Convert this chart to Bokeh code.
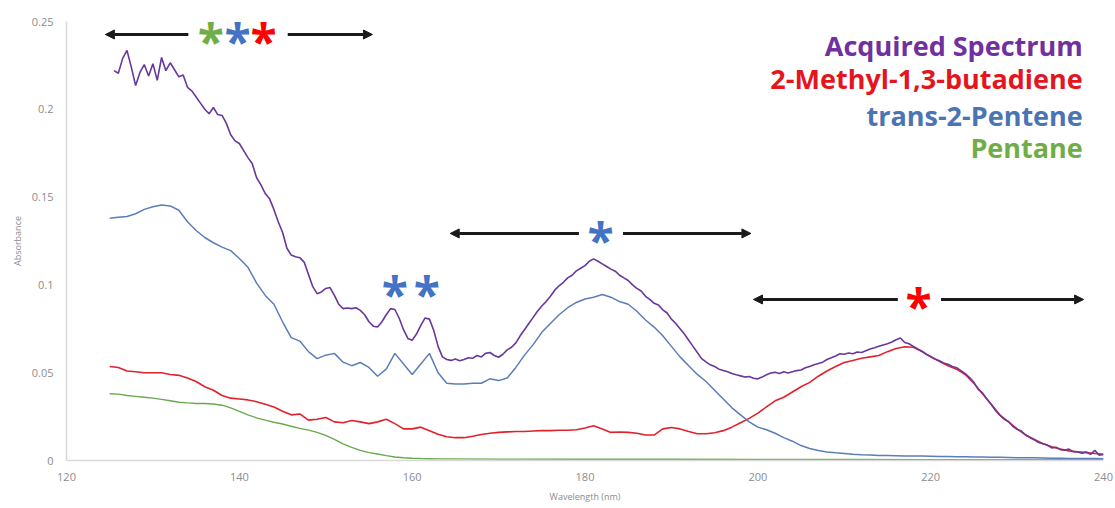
import numpy as np
from bokeh.plotting import figure
from bokeh.models import Range1d, FixedTicker, Arrow, NormalHead, Label
from bokeh.embed import file_html
from bokeh.resources import INLINE

# ---------------- data ----------------
x_ticks = [120, 140, 160, 180, 200, 220, 240]
y_ticks = [0, 0.05, 0.1, 0.15, 0.2, 0.25]
y_tick_labels = ["0", "0.05", "0.1", "0.15", "0.2", "0.25"]

series_names = ["Acquired Spectrum", "2-Methyl-1,3-butadiene", "trans-2-Pentene", "Pentane"]

# wavelength grids (nm)
wl_acquired = np.arange(125.5, 240.01, 0.5)
wl_ref = np.arange(125, 241, 1)

acquired = [
    0.222, 0.2205, 0.229, 0.2335, 0.224, 0.2135, 0.221, 0.2255, 0.219, 0.226,
    0.2165, 0.2295, 0.222, 0.2265, 0.2225, 0.2185, 0.2195, 0.2125, 0.2105, 0.207,
    0.2035, 0.200, 0.1975, 0.201, 0.197, 0.1965, 0.192, 0.1855, 0.182, 0.1805,
    0.1765, 0.1725, 0.169, 0.161, 0.157, 0.152, 0.149, 0.143, 0.136, 0.130,
    0.121, 0.117, 0.116, 0.1155, 0.113, 0.106, 0.099, 0.095, 0.096, 0.098,
    0.0985, 0.094, 0.089, 0.0865, 0.0868, 0.0865, 0.087, 0.0855, 0.083, 0.079,
    0.0765, 0.076, 0.079, 0.083, 0.0865, 0.086, 0.081, 0.0745, 0.0695, 0.0685,
    0.072, 0.077, 0.0812, 0.0805, 0.074, 0.065, 0.059, 0.0575, 0.057, 0.0578,
    0.0568, 0.0575, 0.0585, 0.0582, 0.0598, 0.059, 0.061, 0.0615, 0.0598, 0.0588,
    0.0605, 0.063, 0.0645, 0.067, 0.071, 0.0745, 0.078, 0.0815, 0.085, 0.088,
    0.0905, 0.0935, 0.097, 0.0995, 0.1015, 0.104, 0.1055, 0.108, 0.1095, 0.111,
    0.1135, 0.1148, 0.1135, 0.112, 0.1105, 0.109, 0.1078, 0.1055, 0.104, 0.1025,
    0.100, 0.098, 0.0965, 0.0935, 0.0918, 0.0895, 0.0885, 0.0858, 0.084, 0.0805,
    0.078, 0.075, 0.072, 0.0685, 0.065, 0.0615, 0.058, 0.0562, 0.0545, 0.0535,
    0.052, 0.0513, 0.0505, 0.0495, 0.0488, 0.0482, 0.0475, 0.0478, 0.0468, 0.0465,
    0.0475, 0.0488, 0.0498, 0.0502, 0.0495, 0.0505, 0.0498, 0.0505, 0.0512, 0.0515,
    0.0528, 0.0535, 0.0545, 0.0552, 0.056, 0.0575, 0.0585, 0.0595, 0.0608, 0.0605,
    0.0612, 0.0608, 0.0618, 0.0615, 0.0625, 0.0635, 0.0642, 0.065, 0.0658, 0.0665,
    0.0675, 0.0688, 0.0698, 0.0672, 0.0665, 0.065, 0.0635, 0.0622, 0.0605, 0.0592,
    0.0578, 0.0568, 0.0555, 0.0548, 0.0535, 0.0528, 0.0512, 0.0495, 0.0472, 0.0445,
    0.0405, 0.0385, 0.035, 0.032, 0.0285, 0.0258, 0.0235, 0.0222, 0.0195, 0.0178,
    0.0168, 0.0145, 0.013, 0.0118, 0.0102, 0.0095, 0.0088, 0.0072, 0.0075, 0.0062,
    0.0058, 0.0065, 0.005, 0.0048, 0.0042, 0.0048, 0.0035, 0.0058, 0.003, 0.0035,
]

methylbutadiene = [
    0.0535, 0.053, 0.051, 0.0505, 0.050, 0.050, 0.050, 0.049, 0.0485, 0.047,
    0.045, 0.042, 0.040, 0.037, 0.0355, 0.035, 0.0345, 0.0335, 0.032, 0.0305,
    0.028, 0.026, 0.0265, 0.023, 0.0235, 0.0245, 0.022, 0.0215, 0.0228, 0.022,
    0.021, 0.022, 0.0235, 0.021, 0.018, 0.018, 0.019, 0.017, 0.015, 0.0135,
    0.013, 0.013, 0.0138, 0.0148, 0.0155, 0.016, 0.0163, 0.0165, 0.0165, 0.0168,
    0.017, 0.017, 0.0172, 0.0172, 0.0175, 0.0185, 0.0198, 0.018, 0.016, 0.0162,
    0.016, 0.0155, 0.0145, 0.0145, 0.018, 0.0188, 0.018, 0.0165, 0.0152, 0.0152,
    0.0158, 0.017, 0.019, 0.0215, 0.024, 0.027, 0.0305, 0.034, 0.036, 0.039,
    0.042, 0.0445, 0.048, 0.051, 0.0535, 0.0558, 0.057, 0.0582, 0.059, 0.0598,
    0.062, 0.0638, 0.0648, 0.0645, 0.062, 0.059, 0.0565, 0.054, 0.052, 0.049,
    0.044, 0.038, 0.032, 0.026, 0.022, 0.018, 0.0145, 0.012, 0.0095, 0.0078,
    0.0065, 0.0055, 0.005, 0.0045, 0.004, 0.0035,
]

pentene = [
    0.138, 0.1385, 0.139, 0.1405, 0.143, 0.1445, 0.1455, 0.145, 0.1425, 0.136,
    0.131, 0.127, 0.124, 0.1215, 0.1195, 0.115, 0.110, 0.101, 0.094, 0.089,
    0.079, 0.070, 0.068, 0.062, 0.058, 0.060, 0.061, 0.056, 0.054, 0.0558,
    0.053, 0.048, 0.052, 0.061, 0.055, 0.049, 0.055, 0.061, 0.050, 0.044,
    0.0435, 0.0435, 0.044, 0.044, 0.0465, 0.0455, 0.047, 0.053, 0.060, 0.066,
    0.073, 0.078, 0.083, 0.087, 0.090, 0.092, 0.093, 0.0945, 0.093, 0.0905,
    0.089, 0.085, 0.080, 0.076, 0.071, 0.065, 0.059, 0.054, 0.049, 0.045,
    0.040, 0.035, 0.030, 0.026, 0.022, 0.019, 0.0175, 0.0155, 0.013, 0.011,
    0.0085, 0.0068, 0.0057, 0.0049, 0.0044, 0.004, 0.0036, 0.0033, 0.0031, 0.0029,
    0.0028, 0.0027, 0.0026, 0.0025, 0.0025, 0.0024, 0.0023, 0.0023, 0.0022, 0.0021,
    0.002, 0.002, 0.0019, 0.0018, 0.0017, 0.0016, 0.0015, 0.0015, 0.0014, 0.0013,
    0.0013, 0.0012, 0.0012, 0.0011, 0.0011, 0.001,
]

wl_pentane = [125, 126, 127, 128, 129, 130, 131, 132, 133, 134,
              135, 136, 137, 138, 139, 140, 141, 142, 143, 144,
              145, 146, 147, 148, 149, 150, 151, 152, 153, 154,
              155, 156, 157, 158, 159, 160, 161, 162, 163, 164,
              170, 180, 190, 200, 210, 220, 230, 240]
pentane = [
    0.038, 0.0378, 0.037, 0.0365, 0.036, 0.0355, 0.0348, 0.034, 0.0332, 0.0328,
    0.0325, 0.0325, 0.0322, 0.0315, 0.030, 0.028, 0.026, 0.0243, 0.023, 0.0218,
    0.0208, 0.0195, 0.0183, 0.0173, 0.016, 0.0143, 0.012, 0.0095, 0.0075, 0.0058,
    0.0045, 0.0037, 0.0028, 0.002, 0.0016, 0.0013, 0.0011, 0.001, 0.0009, 0.0009,
    0.0008, 0.0007, 0.0007, 0.0006, 0.0006, 0.0005, 0.0005, 0.0005,
]

# ---------------- styles ----------------
line_colors = ["#68389A", "#E0222B", "#5B7DB8", "#6AA84F"]
text_colors = ["#7030A0", "#E3161E", "#4B74B5", "#70AD47"]
FONT = "Open Sans"

p = figure(width=1115, height=506, x_range=Range1d(120, 240), y_range=Range1d(0, 0.25),
           output_backend="svg", toolbar_location=None,
           min_border_left=66, min_border_right=12, min_border_top=21, min_border_bottom=46)
p.grid.visible = False
p.outline_line_color = None
p.background_fill_color = "white"

p.line(wl_ref, methylbutadiene, line_color=line_colors[1], line_width=1.6)
p.line(wl_ref, pentene, line_color=line_colors[2], line_width=1.5)
p.line(wl_pentane, pentane, line_color=line_colors[3], line_width=1.4)
p.line(wl_acquired, acquired, line_color=line_colors[0], line_width=1.6)

# axes
for ax in (p.xaxis[0], p.yaxis[0]):
    ax.axis_line_color = "#d9d9d9"
    ax.axis_line_width = 1.5
    ax.major_tick_line_color = None
    ax.minor_tick_line_color = None
    ax.major_tick_out = 0
    ax.major_tick_in = 0
    ax.minor_tick_out = 0
    ax.minor_tick_in = 0
    ax.major_label_text_color = "#8c8c8c"
    ax.major_label_text_font = FONT
    ax.major_label_text_font_size = "11px"
    ax.axis_label_text_color = "#8c8c8c"
    ax.axis_label_text_font = FONT
    ax.axis_label_text_font_size = "9px"
    ax.axis_label_text_font_style = "normal"

p.xaxis.ticker = FixedTicker(ticks=x_ticks)
p.yaxis.ticker = FixedTicker(ticks=y_ticks)
p.yaxis.major_label_overrides = {t: l for t, l in zip(y_ticks, y_tick_labels)}
p.xaxis.axis_label = "Wavelength (nm)"
p.yaxis.axis_label = "Absorbance"
p.xaxis.major_label_standoff = 12
p.xaxis.axis_label_standoff = 6
p.yaxis.major_label_standoff = 13
p.yaxis.axis_label_standoff = 5

# legend-like text at top right
legend_x = 237.6
legend_y = [0.2363, 0.2175, 0.1965, 0.1782]
for name, c, yy in zip(series_names, text_colors, legend_y):
    p.add_layout(Label(x=legend_x, y=yy, text=name, text_align="right", text_baseline="middle",
                       text_color=c, text_font=FONT, text_font_style="bold", text_font_size="27px"))

# range arrows
arrow_y = [0.2426, 0.1293, 0.0917]
arrow_left = [(134.1, 124.5), (179.3, 164.4), (216.2, 199.5)]
arrow_right = [(145.6, 155.4), (184.4, 199.2), (221.2, 237.7)]
for yy, (a0, a1), (b0, b1) in zip(arrow_y, arrow_left, arrow_right):
    for s, e in ((a0, a1), (b0, b1)):
        p.add_layout(Arrow(x_start=s, y_start=yy, x_end=e, y_end=yy,
                           line_color="#1a1a1a", line_width=3,
                           end=NormalHead(size=9, fill_color="#1a1a1a", line_color="#1a1a1a", line_width=1)))

# asterisks
star_x = [136.7, 139.8, 142.8, 181.8, 218.6, 158.0, 161.7]
star_y = [0.2426, 0.2426, 0.2426, 0.1293, 0.0917, 0.0985, 0.0985]
star_c = ["#70AD47", "#4472C4", "#FF0000", "#4472C4", "#FF0000", "#4472C4", "#4472C4"]
for xx, yy, c in zip(star_x, star_y, star_c):
    p.add_layout(Label(x=xx, y=yy, text="*", text_align="center", text_baseline="middle",
                       y_offset=-6,
                       text_color=c, text_font=FONT, text_font_style="bold", text_font_size="48px"))

open("out.html", "w").write(file_html(p, INLINE))
